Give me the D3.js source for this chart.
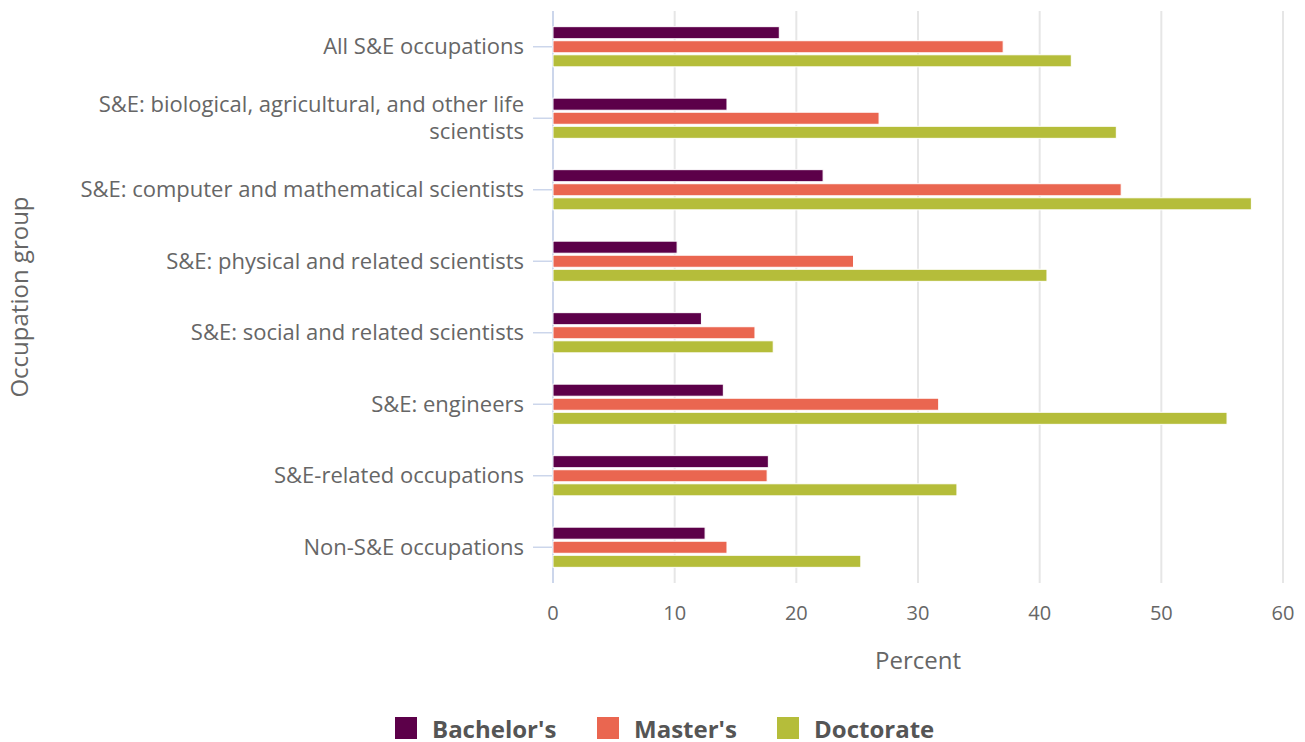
<!DOCTYPE html>
<html lang="en">
<head>
  <meta charset="UTF-8" />
  <title>Occupation group by degree</title>
  <script src="https://d3js.org/d3.v7.min.js"></script>
  <style>
    body {
      margin: 0;
      background: #fff;
      font-family: 'Open Sans', sans-serif;
    }
    svg { display: block; }
    .grid line { stroke: #e6e6e6; stroke-width: 2px; }
    .cat text { fill: #666; font-size: 22px; }
    .xlab text { fill: #666; font-size: 20px; }
    .title { fill: #666; font-size: 24px; }
    .legend text { fill: #555; font-size: 24px; font-weight: 700; }
  </style>
</head>
<body>
  <svg width="1305" height="742"></svg>
  <script>
    const categories = [
      "All S&E occupations",
      "S&E: biological, agricultural, and other life scientists",
      "S&E: computer and mathematical scientists",
      "S&E: physical and related scientists",
      "S&E: social and related scientists",
      "S&E: engineers",
      "S&E-related occupations",
      "Non-S&E occupations"
    ];
    const series = ["Bachelor's", "Master's", "Doctorate"];
    const bachelors = [18.6, 14.3, 22.2, 10.2, 12.2, 14.0, 17.7, 12.5];
    const masters = [37.0, 26.8, 46.7, 24.7, 16.6, 31.7, 17.6, 14.3];
    const doctorate = [42.6, 46.3, 57.4, 40.6, 18.1, 55.4, 33.2, 25.3];
    const xTicks = [0, 10, 20, 30, 40, 50, 60];
    const colors = ["#5c0049", "#ea6650", "#b5bd3a"];

    const values = [bachelors, masters, doctorate];
    const svg = d3.select("svg");

    const plotL = 553, plotR = 1283, plotT = 11, plotB = 583;

    const x = d3.scaleLinear().domain([0, 60]).range([plotL, plotR]);
    const y0 = d3.scaleBand().domain(categories).range([plotT, plotB])
      .paddingInner(0.41).paddingOuter(0.205);
    const y1 = d3.scaleBand().domain(series).range([0, y0.bandwidth()]);

    // grid
    svg.append("g").attr("class", "grid")
      .selectAll("line")
      .data(xTicks.slice(1))
      .join("line")
      .attr("x1", d => x(d)).attr("x2", d => x(d))
      .attr("y1", plotT).attr("y2", plotB);

    // y axis line + ticks
    svg.append("line")
      .attr("x1", plotL).attr("x2", plotL)
      .attr("y1", plotT).attr("y2", plotB)
      .attr("stroke", "#ccd6eb").attr("stroke-width", 2);

    const catG = svg.append("g").attr("class", "cat")
      .selectAll("g")
      .data(categories)
      .join("g")
      .attr("transform", d => `translate(0,${y0(d) + y0.bandwidth() / 2})`);

    catG.append("line")
      .attr("x1", plotL - 20).attr("x2", plotL)
      .attr("stroke", "#ccd6eb").attr("stroke-width", 1.5);

    catG.append("text")
      .attr("text-anchor", "end")
      .attr("x", plotL - 29)
      .each(function (d) {
        const lines = d.length > 45
          ? ["S&E: biological, agricultural, and other life", "scientists"]
          : [d];
        const t = d3.select(this);
        const lh = 27;
        lines.forEach((l, i) => {
          t.append("tspan")
            .attr("x", plotL - 29)
            .attr("y", (i - (lines.length - 1) / 2) * lh)
            .attr("dy", "0.35em")
            .text(l);
        });
      });

    // bars
    const barG = svg.append("g")
      .selectAll("g")
      .data(categories)
      .join("g")
      .attr("transform", d => `translate(0,${y0(d)})`);

    barG.selectAll("rect")
      .data((d, i) => series.map((s, j) => ({ s, v: values[j][i], c: colors[j] })))
      .join("rect")
      .attr("x", x(0))
      .attr("y", d => y1(d.s) + 1)
      .attr("width", d => x(d.v) - x(0))
      .attr("height", y1.bandwidth() - 2)
      .attr("fill", d => d.c)
      .attr("stroke", "#fff")
      .attr("stroke-width", 1);

    // x tick labels
    svg.append("g").attr("class", "xlab")
      .selectAll("text")
      .data(xTicks)
      .join("text")
      .attr("x", d => x(d))
      .attr("y", 620)
      .attr("text-anchor", "middle")
      .text(d => d);

    svg.append("text").attr("class", "title")
      .attr("x", (plotL + plotR) / 2).attr("y", 669)
      .attr("text-anchor", "middle")
      .text("Percent");

    svg.append("text").attr("class", "title")
      .attr("transform", `translate(28,${(plotT + plotB) / 2}) rotate(-90)`)
      .attr("text-anchor", "middle")
      .text("Occupation group");

    // legend
    const legendX = [395, 597, 777];
    const lg = svg.append("g").attr("class", "legend")
      .selectAll("g")
      .data(series)
      .join("g")
      .attr("transform", (d, i) => `translate(${legendX[i]},717)`);
    lg.append("rect").attr("width", 22).attr("height", 22)
      .attr("fill", (d, i) => colors[i]);
    lg.append("text").attr("x", 37).attr("y", 12).attr("dy", "0.36em")
      .text(d => d);
  </script>
</body>
</html>
